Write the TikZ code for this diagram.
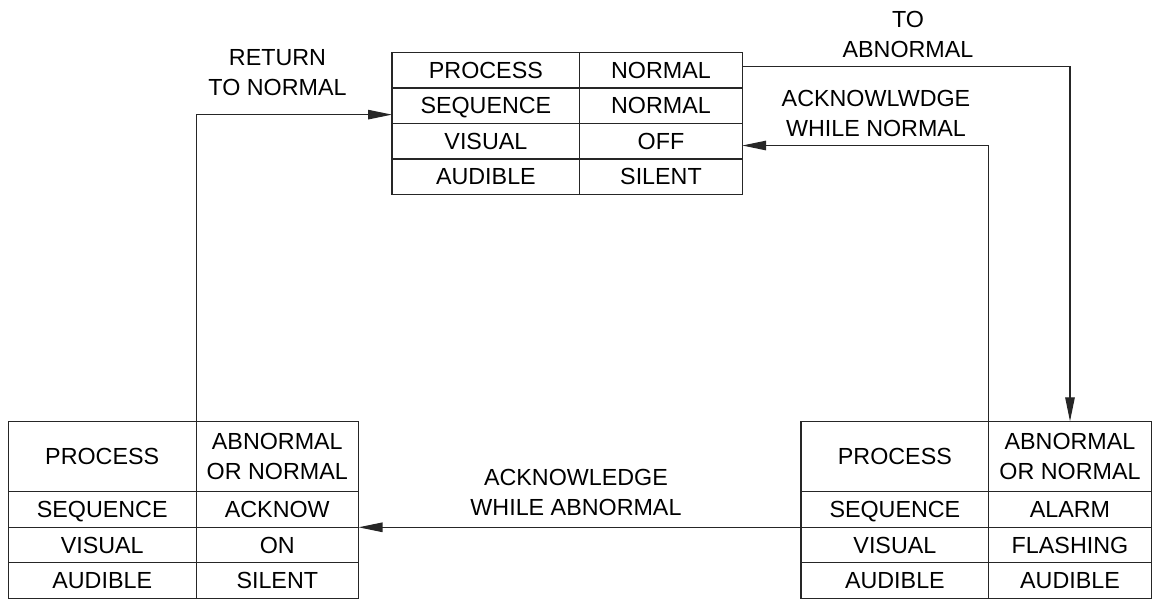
\documentclass[tikz,border=0pt]{standalone}
\usepackage{fontspec}
\setmainfont{Liberation Sans}
\usetikzlibrary{arrows.meta,calc}
\begin{document}
\begin{tikzpicture}[x=0.5pt,y=-0.5pt,
  txt/.style={font=\fontsize{11.65}{15}\selectfont, text=black},
  cell/.style={txt, draw=black!85, line width=0.6pt, inner sep=0pt, outer sep=0pt,
    minimum height=17.75pt, anchor=north west, text depth=0pt},
  tall/.style={minimum height=35.25pt, align=center},
  cone/.style={cell, minimum width=93.9pt},
  ctwo/.style={cell, minimum width=81.2pt},
  lbl/.style={txt, align=center, inner sep=0pt},
  arr/.style={draw=black!85, line width=0.6pt,
    -{Triangle[length=12pt,width=4.75pt]}}]
\useasboundingbox (0,0) rectangle (1153,600);

% top table
\node[cone] (T11) at (392,52.5) {PROCESS};
\node[ctwo] (T12) at (T11.north east) {NORMAL};
\node[cone] (T21) at (T11.south west) {SEQUENCE};
\node[ctwo] (T22) at (T21.north east) {NORMAL};
\node[cone] (T31) at (T21.south west) {VISUAL};
\node[ctwo] (T32) at (T31.north east) {OFF};
\node[cone] (T41) at (T31.south west) {AUDIBLE};
\node[ctwo] (T42) at (T41.north east) {SILENT};

% bottom-left table
\node[cone,tall] (L11) at (8.3,421.3) {PROCESS};
\node[ctwo,tall] (L12) at (L11.north east) {ABNORMAL\\OR NORMAL};
\node[cone] (L21) at (L11.south west) {SEQUENCE};
\node[ctwo] (L22) at (L21.north east) {ACKNOW};
\node[cone] (L31) at (L21.south west) {VISUAL};
\node[ctwo] (L32) at (L31.north east) {ON};
\node[cone] (L41) at (L31.south west) {AUDIBLE};
\node[ctwo] (L42) at (L41.north east) {SILENT};

% bottom-right table
\node[cone,tall] (R11) at (801,421.3) {PROCESS};
\node[ctwo,tall] (R12) at (R11.north east) {ABNORMAL\\OR NORMAL};
\node[cone] (R21) at (R11.south west) {SEQUENCE};
\node[ctwo] (R22) at (R21.north east) {ALARM};
\node[cone] (R31) at (R21.south west) {VISUAL};
\node[ctwo] (R32) at (R31.north east) {FLASHING};
\node[cone] (R41) at (R31.south west) {AUDIBLE};
\node[ctwo] (R42) at (R41.north east) {AUDIBLE};

% connector end points
\coordinate (ret) at ($(T21.north west)!0.75!(T21.south west)$);
\coordinate (toab) at ($(T12.north east)!0.4!(T12.south east)$);
\coordinate (ackn) at ($(T32.north east)!0.62!(T32.south east)$);

% connectors
\draw[arr] (L11.north east) |- (ret);
\draw[arr] (toab) -| (R12.north);
\draw[arr] (R11.north east) |- (ackn);
\draw[arr] (R21.south west) -- (L22.south east);

% labels
\node[lbl] (lret) at (277.5,73) {RETURN\\TO NORMAL};
\node[lbl] (ltoab) at (908,34) {TO\\ABNORMAL};
\node[lbl] (lackn) at (876,113.3) {ACKNOWLWDGE\\WHILE NORMAL};
\node[lbl] (lacka) at (576,492) {ACKNOWLEDGE\\WHILE ABNORMAL};
\end{tikzpicture}
\end{document}
